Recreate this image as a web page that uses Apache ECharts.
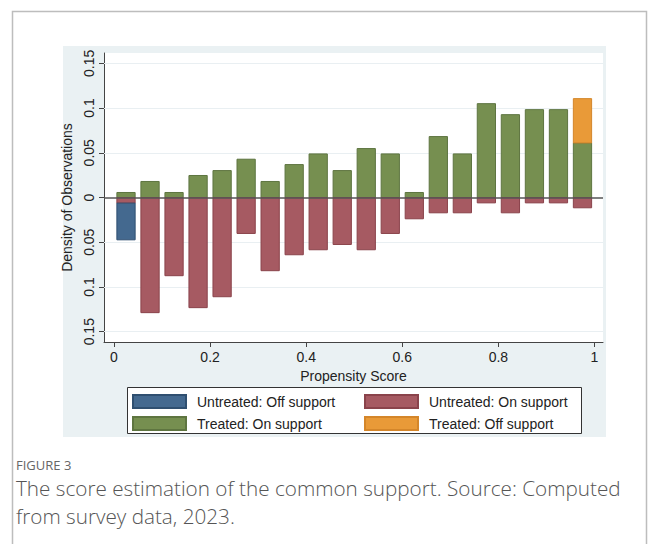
<!DOCTYPE html>
<html>
<head>
<meta charset="utf-8">
<script src="https://cdn.jsdelivr.net/npm/echarts@6/dist/echarts.min.js"></script>
<style>
  html, body { margin: 0; padding: 0; background: #fff; }
  #main { width: 658px; height: 544px; }
</style>
</head>
<body>
<div id="main"></div>
<script>
// bin centres of the propensity score histogram (width 0.05)
var binCenters = [0.025, 0.075, 0.125, 0.175, 0.225, 0.275, 0.325, 0.375, 0.425, 0.475,
                  0.525, 0.575, 0.625, 0.675, 0.725, 0.775, 0.825, 0.875, 0.925, 0.975];
// densities (untreated drawn below zero)
var treatedOn    = [0.0056, 0.0179, 0.0056, 0.0246, 0.0301, 0.0428, 0.0179, 0.0368, 0.0487, 0.0301,
                    0.0547, 0.0487, 0.0056, 0.0681, 0.0487, 0.1049, 0.0926, 0.0982, 0.0982, 0.0610];
var treatedOff   = [0, 0, 0, 0, 0, 0, 0, 0, 0, 0, 0, 0, 0, 0, 0, 0, 0, 0, 0, 0.0495];
var untreatedOn  = [0.0063, 0.1287, 0.0874, 0.1231, 0.1109, 0.0402, 0.0818, 0.0640, 0.0584, 0.0525,
                    0.0584, 0.0402, 0.0238, 0.0171, 0.0171, 0.0060, 0.0171, 0.0060, 0.0060, 0.0115];
var untreatedOff = [0.0410, 0, 0, 0, 0, 0, 0, 0, 0, 0, 0, 0, 0, 0, 0, 0, 0, 0, 0, 0];

var xTicks = [0, 0.2, 0.4, 0.6, 0.8, 1];
var yTicks = [-0.15, -0.1, -0.05, 0, 0.05, 0.1, 0.15];

var halfBar = 0.019;
var font = '"Liberation Sans", Arial, sans-serif';

// [x, lower, upper] triples, stacked the way psgraph does it
function bars(base, vals, sign) {
  var out = [];
  for (var i = 0; i < binCenters.length; i++) {
    if (!vals[i]) continue;
    var b = base ? base[i] : 0;
    out.push([binCenters[i], sign * b, sign * (b + vals[i])]);
  }
  return out;
}

function renderBar(params, api) {
  var p0 = api.coord([api.value(0) - halfBar, api.value(2)]);
  var p1 = api.coord([api.value(0) + halfBar, api.value(1)]);
  return {
    type: 'rect',
    shape: { x: p0[0], y: Math.min(p0[1], p1[1]), width: p1[0] - p0[0], height: Math.abs(p1[1] - p0[1]) },
    style: api.style()
  };
}

function barSeries(name, data, color, border) {
  return {
    name: name,
    type: 'custom',
    renderItem: renderBar,
    encode: { x: 0, y: [1, 2] },
    data: data,
    z: 3,
    itemStyle: { color: color, borderColor: border, borderWidth: 1 }
  };
}

var chart = echarts.init(document.getElementById('main'), null, { renderer: 'svg' });

var legendText = { color: '#222', fontSize: 14, fontFamily: font, lineHeight: 13, padding: [0, 0, 0, 6] };
var captionStyle = { fill: '#555', fontSize: 20.7, lineHeight: 22, fontWeight: 300,
                     fontFamily: '"Open Sans", sans-serif' };

chart.setOption({
  animation: false,
  graphic: [
    { type: 'rect', z: -20, shape: { x: 12.5, y: 11.5, width: 634, height: 620 },
      style: { fill: '#fff', stroke: '#bdbdbd', lineWidth: 1.5 } },
    { type: 'rect', z: -10, shape: { x: 63, y: 46, width: 543, height: 391 },
      style: { fill: '#eaf1f3' } },
    { type: 'rect', z: -5, shape: { x: 127.5, y: 387.5, width: 454, height: 46 },
      style: { fill: '#fff', stroke: '#333', lineWidth: 1 } },
    { type: 'text', left: 16, top: 458,
      style: { text: 'FIGURE 3', fill: '#666', fontSize: 13, fontFamily: '"Open Sans", sans-serif' } },
    { type: 'text', left: 16, top: 477,
      style: Object.assign({ text: 'The score estimation of the common support. Source: Computed' }, captionStyle) },
    { type: 'text', left: 16, top: 505,
      style: Object.assign({ text: 'from survey data, 2023.' }, captionStyle) }
  ],
  grid: {
    left: 104, right: 55, top: 53, bottom: 202,
    show: true, backgroundColor: '#fff', borderWidth: 0
  },
  legend: [
    {
      left: 132, top: 394, orient: 'vertical', padding: 0,
      itemWidth: 53, itemHeight: 13, itemGap: 7, icon: 'rect', selectedMode: false,
      textStyle: legendText,
      data: ['Untreated: Off support', 'Treated: On support']
    },
    {
      left: 364, top: 394, orient: 'vertical', padding: 0,
      itemWidth: 53, itemHeight: 13, itemGap: 7, icon: 'rect', selectedMode: false,
      textStyle: legendText,
      data: ['Untreated: On support', 'Treated: Off support']
    }
  ],
  xAxis: {
    type: 'value', min: -0.0208, max: 1.0177,
    name: 'Propensity Score', nameLocation: 'middle', nameGap: 22,
    nameTextStyle: { color: '#222', fontSize: 14, fontFamily: font },
    axisLine: { onZero: false, lineStyle: { color: '#444', width: 1 } },
    axisTick: { show: true, length: 5, customValues: xTicks, lineStyle: { color: '#444' } },
    axisLabel: { customValues: xTicks, margin: 8, color: '#222', fontSize: 14, fontFamily: font,
                 formatter: function (v) { return String(v); } },
    splitLine: { show: false }
  },
  yAxis: {
    type: 'value', min: -0.1615, max: 0.1615,
    name: 'Density of Observations', nameLocation: 'middle', nameGap: 18,
    nameTextStyle: { color: '#222', fontSize: 14, fontFamily: font },
    axisLine: { show: true, onZero: false, lineStyle: { color: '#444', width: 1 } },
    axisTick: { show: true, length: 5, customValues: yTicks, lineStyle: { color: '#444' } },
    axisLabel: { customValues: yTicks, rotate: 90, margin: 8, color: '#222', fontSize: 14, fontFamily: font,
                 formatter: function (v) { return String(Math.abs(v)); } },
    splitLine: { show: false }
  },
  series: [
    {
      name: 'grid', type: 'line', data: [], z: 1, silent: true,
      markLine: {
        z: 1, silent: true, symbol: 'none', label: { show: false },
        lineStyle: { color: '#e9eff2', width: 1, type: 'solid' },
        data: yTicks.filter(function (v) { return v !== 0; }).map(function (v) { return { yAxis: v }; })
      }
    },
    barSeries('Treated: On support', bars(null, treatedOn, 1), '#768f50', '#5e7540'),
    barSeries('Treated: Off support', bars(treatedOn, treatedOff, 1), '#e99a38', '#d4862a'),
    barSeries('Untreated: On support', bars(null, untreatedOn, -1), '#a65a62', '#8a434b'),
    barSeries('Untreated: Off support', bars(untreatedOn, untreatedOff, -1), '#44698f', '#2f4f70'),
    {
      name: 'zero', type: 'line', data: [], z: 10, silent: true,
      markLine: {
        z: 10, silent: true, symbol: 'none', label: { show: false },
        lineStyle: { color: '#555', width: 1.5, type: 'solid' },
        data: [{ yAxis: 0 }]
      }
    }
  ]
});
</script>
</body>
</html>
